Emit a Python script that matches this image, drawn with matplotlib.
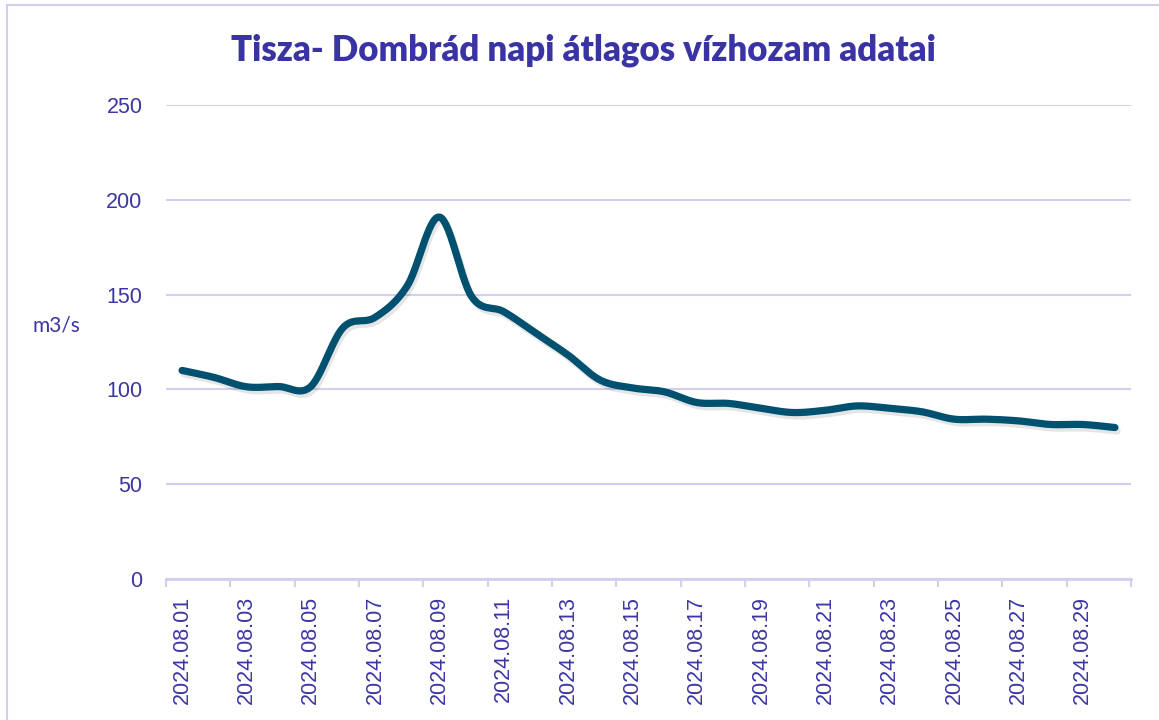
import matplotlib
matplotlib.use("Agg")
import matplotlib.pyplot as plt
import matplotlib.patheffects as pe
from matplotlib.patches import Rectangle
import numpy as np

# ---- data ----
dates = ["2024.08.%02d" % d for d in range(1, 31)]
flow = [110, 106.3, 101.4, 101.5, 101.5, 132.5, 138, 154.6, 190.9, 149,
        141, 129.6, 118.1, 104.9, 100.8, 98.7, 93.1, 92.6, 90, 87.8,
        89, 91.3, 90, 88.2, 84.3, 84.3, 83.4, 81.5, 81.5, 79.9]
yticks = [0, 50, 100, 150, 200, 250]
title = "Tisza- Dombrád napi átlagos vízhozam adatai"
ylabel = "m3/s"

TXT = "#3B36A3"
GRID = "#D3CEEF"
LINE = "#00506F"

W, H = 1159, 720
fig = plt.figure(figsize=(W / 100, H / 100), dpi=100)
fig.patch.set_facecolor("white")

# chart border
fig.patches.append(Rectangle((7 / W, -0.1), 1.2, 1 - 5 / H + 0.1, transform=fig.transFigure,
                             fill=False, edgecolor=GRID, linewidth=1.5, zorder=0))

ax = fig.add_axes([166 / W, 1 - 579 / H, (1131 - 166) / W, (579 - 105) / H])

# Excel-like smoothing (Catmull-Rom)
y = np.asarray(flow, dtype=float)
x = np.arange(len(y), dtype=float)
xp = np.concatenate([[x[0]], x, [x[-1]]])
yp = np.concatenate([[y[0]], y, [y[-1]]])
xs, ys = [], []
for i in range(len(y) - 1):
    p0x, p1x, p2x, p3x = xp[i], xp[i + 1], xp[i + 2], xp[i + 3]
    p0y, p1y, p2y, p3y = yp[i], yp[i + 1], yp[i + 2], yp[i + 3]
    c1x, c1y = p1x + (p2x - p0x) / 6, p1y + (p2y - p0y) / 6
    c2x, c2y = p2x - (p3x - p1x) / 6, p2y - (p3y - p1y) / 6
    t = np.linspace(0, 1, 30)
    bx = (1 - t) ** 3 * p1x + 3 * (1 - t) ** 2 * t * c1x + 3 * (1 - t) * t ** 2 * c2x + t ** 3 * p2x
    by = (1 - t) ** 3 * p1y + 3 * (1 - t) ** 2 * t * c1y + 3 * (1 - t) * t ** 2 * c2y + t ** 3 * p2y
    xs.extend(bx[:-1] if i < len(y) - 2 else bx)
    ys.extend(by[:-1] if i < len(y) - 2 else by)

ax.plot(xs, ys, color=LINE, linewidth=5.2, solid_capstyle="round", zorder=3,
        path_effects=[pe.SimpleLineShadow(offset=(1.5, -2.5), shadow_color="black", alpha=0.1, rho=1),
                      pe.Normal()])

ax.set_xlim(-0.5, len(y) - 0.5)
ax.set_ylim(0, 250)
ax.set_yticks(yticks)
ax.yaxis.grid(True, color=GRID, linewidth=1.5)
ax.set_axisbelow(True)
ax.tick_params(axis="y", length=0, pad=17, labelsize=15.5, labelcolor=TXT)
for lab in ax.get_yticklabels():
    lab.set_fontfamily("Liberation Sans")

# x: tick marks at category boundaries every 2, labels at every other category centre
ax.set_xticks(np.arange(-0.5, len(y), 2))
ax.set_xticklabels([])
ax.set_xticks(x[::2], minor=True)
ax.set_xticklabels(dates[::2], minor=True, rotation=90, fontsize=15.5,
                   color=TXT, fontfamily="Liberation Sans")
ax.tick_params(axis="x", which="major", length=6, width=1.5, color=GRID)
ax.tick_params(axis="x", which="minor", length=0, pad=12)

for s in ["left", "right", "top"]:
    ax.spines[s].set_visible(False)
ax.spines["bottom"].set_color(GRID)
ax.spines["bottom"].set_linewidth(2)

fig.text(583 / W, 1 - 50 / H, title, ha="center", va="center", fontsize=25,
         fontweight="heavy", color="#3A33A3", fontfamily="Lato")
fig.text(56 / W, 1 - 326 / H, ylabel, ha="center", va="center", fontsize=15,
         color=TXT, fontfamily="Lato")

fig.savefig("out.png", dpi=100)
